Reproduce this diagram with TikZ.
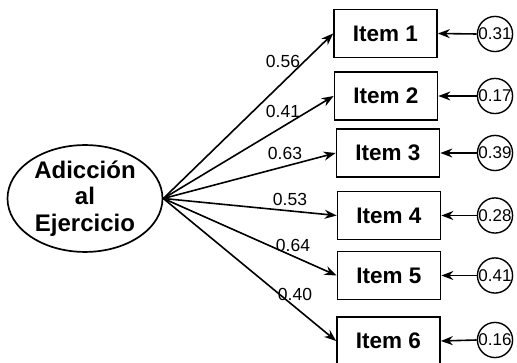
\documentclass[tikz,border=0pt]{standalone}
\usepackage{fontspec}
\setmainfont{Liberation Sans}
\usetikzlibrary{arrows.meta,shapes.geometric}
\begin{document}
\begin{tikzpicture}[x=1pt,y=-1pt,
  item/.style={draw, line width=1.7pt, minimum width=103pt, minimum height=48pt, inner sep=0pt,
    font=\fontsize{22.5}{26}\selectfont\bfseries},
  err/.style={draw, circle, line width=1.4pt, minimum size=35pt, inner sep=0pt,
    font=\fontsize{17}{18}\selectfont},
  lat/.style={draw, ellipse, line width=1.7pt, minimum width=155pt, minimum height=103pt,
    inner sep=0pt, align=center, font=\fontsize{24}{26.5}\selectfont\bfseries},
  arr/.style={line width=1.6pt, -{Stealth[length=12pt,width=9pt]}},
  lab/.style={font=\fontsize{17.5}{20}\selectfont, inner sep=0pt}]
\useasboundingbox (0,0) rectangle (517,363);
\node[lat] (lv) at (85,198.5) {Adicción\\al\\Ejercicio};
\node[item] (b1) at (385.5,33.5) {Item 1};
\node[item] (b2) at (386,96) {Item 2};
\node[item] (b3) at (388,153) {Item 3};
\node[item] (b4) at (389,215.5) {Item 4};
\node[item] (b5) at (389,275.5) {Item 5};
\node[item] (b6) at (388.5,341) {Item 6};
\node[err] (e1) at (495,34) {0.31};
\node[err] (e2) at (495,96) {0.17};
\node[err] (e3) at (495,153) {0.39};
\node[err] (e4) at (495,215.5) {0.28};
\node[err] (e5) at (495,275.5) {0.41};
\node[err] (e6) at (495,340) {0.16};
\foreach \i in {1,...,6} {
  \draw[arr] (lv.east) -- (b\i.west);
  \draw[arr] (e\i.west) -- (b\i.east);
}
\node[lab] (l1) at (283,61) {0.56};
\node[lab] (l2) at (283,111) {0.41};
\node[lab] (l3) at (285,153) {0.63};
\node[lab] (l4) at (290,199) {0.53};
\node[lab] (l5) at (293,245) {0.64};
\node[lab] (l6) at (295,294) {0.40};
\end{tikzpicture}
\end{document}
